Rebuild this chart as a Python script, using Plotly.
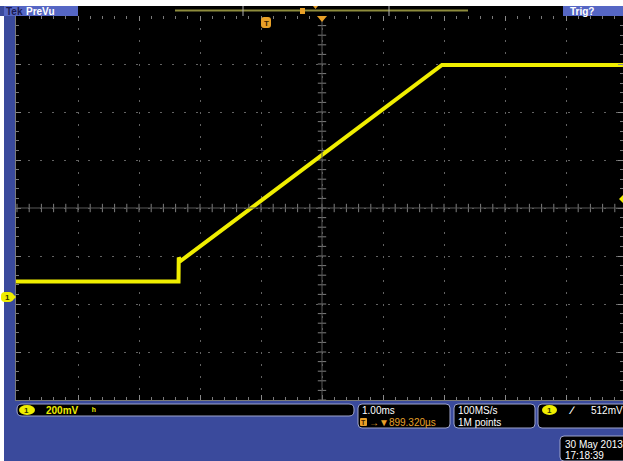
import plotly.graph_objects as go

time_ms = [-4.12, -1.453, -1.449, -1.42, 2.866, 5.84]      # time relative to trigger, ms
volts = [0.0646, 0.0646, 0.165, 0.150, 0.9667, 0.9667]       # channel 1, V

volts_per_div = 0.200
ms_per_div = 1.00
center_time = 0.89932          # horizontal position readout (ms)
center_volts = 0.37083         # graticule centre in volts (ground marker offset)
trigger_level = 0.512

ch_label = "200mV"
tb_label = "1.00ms"
pos_label = "\u2192\u25bc899.320\u00b5s"
rate_label = "100MS/s"
points_label = "1M points"
trig_label = "512mV"
date_label = "30 May 2013"
time_label = "17:18:39"

W, H = 623, 461
def X(px): return px / W
def Y(py): return 1 - py / H

BLUE = "#3a4a9c"
LBLUE = "#5566c4"
YEL = "#f0ee00"
ORG = "#e8a028"
GRID = "#626262"
BORDER = "#9ea4cc"
FONT = "Liberation Sans"

fig = go.Figure()

# graticule centre ticks
cx_ticks = [center_time + i * 0.2 * ms_per_div for i in range(-26, 26)]
cy_ticks = [center_volts + i * 0.2 * volts_per_div for i in range(-20, 21)]
fig.add_trace(go.Scatter(x=cx_ticks, y=[center_volts] * len(cx_ticks), mode="markers",
                         marker=dict(symbol="line-ns", size=6, line=dict(color="#7e7e7e", width=1)),
                         hoverinfo="skip"))
fig.add_trace(go.Scatter(x=[center_time] * len(cy_ticks), y=cy_ticks, mode="markers",
                         marker=dict(symbol="line-ew", size=6, line=dict(color="#7e7e7e", width=1)),
                         hoverinfo="skip"))

# waveform
fig.add_trace(go.Scatter(x=time_ms, y=volts, mode="lines",
                         line=dict(color=YEL, width=4), hoverinfo="skip"))

x0 = center_time - (322 - 16) / 61 * ms_per_div
x1 = center_time + (623 - 322) / 61 * ms_per_div
y1 = center_volts + (208 - 16) / 48 * volts_per_div
y0 = center_volts - (400 - 208) / 48 * volts_per_div

axis_common = dict(showticklabels=False, ticks="inside", ticklen=5, tickcolor="#8a8a8a",
                   showline=True, linecolor="#7a7a7a", linewidth=1, mirror="ticks",
                   showgrid=True, gridcolor=GRID, gridwidth=1, griddash="2px,10px",
                   zeroline=False, fixedrange=True)
fig.update_xaxes(range=[x0, x1], domain=[X(16), 1], tick0=center_time, dtick=ms_per_div,
                 minor=dict(tick0=center_time, dtick=0.2 * ms_per_div, ticks="inside",
                            ticklen=3, tickcolor="#7a7a7a", showgrid=False),
                 **axis_common)
fig.update_yaxes(range=[y0, y1], domain=[Y(400), Y(16)], tick0=center_volts, dtick=volts_per_div,
                 minor=dict(tick0=center_volts, dtick=0.2 * volts_per_div, ticks="inside",
                            ticklen=3, tickcolor="#7a7a7a", showgrid=False),
                 **axis_common)

shapes = []
def rect(xa, ya, xb, yb, fill, line=None, lw=0):
    shapes.append(dict(type="rect", xref="paper", yref="paper", x0=X(xa), x1=X(xb),
                       y0=Y(yb), y1=Y(ya), fillcolor=fill,
                       line=dict(color=line or fill, width=lw)))
def rrect(xa, ya, xb, yb, fill, line, r=4, lw=1):
    p = (f"M {X(xa + r)},{Y(ya)} L {X(xb - r)},{Y(ya)} Q {X(xb)},{Y(ya)} {X(xb)},{Y(ya + r)} "
         f"L {X(xb)},{Y(yb - r)} Q {X(xb)},{Y(yb)} {X(xb - r)},{Y(yb)} "
         f"L {X(xa + r)},{Y(yb)} Q {X(xa)},{Y(yb)} {X(xa)},{Y(yb - r)} "
         f"L {X(xa)},{Y(ya + r)} Q {X(xa)},{Y(ya)} {X(xa + r)},{Y(ya)} Z")
    shapes.append(dict(type="path", xref="paper", yref="paper", path=p, fillcolor=fill,
                       line=dict(color=line, width=lw)))
def seg(xa, ya, xb, yb, color, w=1):
    shapes.append(dict(type="line", xref="paper", yref="paper", x0=X(xa), y0=Y(ya),
                       x1=X(xb), y1=Y(yb), line=dict(color=color, width=w)))
def ell(xa, ya, xb, yb, fill):
    shapes.append(dict(type="circle", xref="paper", yref="paper", x0=X(xa), x1=X(xb),
                       y0=Y(yb), y1=Y(ya), fillcolor=fill, line=dict(color=fill, width=0)))
def tri(pts, fill):
    p = "M " + " L ".join(f"{X(a)},{Y(b)}" for a, b in pts) + " Z"
    shapes.append(dict(type="path", xref="paper", yref="paper", path=p, fillcolor=fill,
                       line=dict(color=fill, width=0)))

# white borders
rect(0, 0, 623, 6, "white")
rect(0, 16, 4, 461, "white")
# header
rect(4, 6, 78, 16, LBLUE)
rect(78, 6, 563, 16, "black")
rect(563, 6, 623, 16, LBLUE)
seg(175, 10.5, 468, 10.5, "#8e8c3c", 2)
seg(243, 6, 243, 16, "#b0b0b0", 1)
seg(389, 6, 389, 16, "#b0b0b0", 1)
rect(300, 8, 305, 14, ORG)
tri([(313, 6), (318, 6), (315.5, 9)], ORG)
# centre lines
seg(322, 16, 322, 400, "#585858", 1)
seg(16, 208, 623, 208, "#585858", 1)
# trigger position markers
tri([(317, 16), (327, 16), (322, 22)], ORG)
rrect(261, 17, 271, 28, ORG, ORG, r=3, lw=0)
# channel ground marker (left)
rrect(1, 292, 13, 302, YEL, YEL, r=4, lw=0)
tri([(12, 293), (16, 297), (12, 301)], YEL)
# trigger level marker (right)
tri([(619, 199), (623, 195), (623, 203)], YEL)
# bottom readouts
rrect(17, 404, 354, 416, "black", BORDER, r=5)
ell(19, 405, 35, 415, YEL)
rrect(358, 404, 450, 428, "black", BORDER, r=4)
rrect(360, 418, 367, 426, ORG, ORG, r=1, lw=0)
rrect(454, 404, 535, 428, "black", BORDER, r=4)
rrect(538, 404, 640, 428, "black", BORDER, r=4)
ell(542, 405, 557, 415, YEL)
rrect(560, 436, 640, 461, "black", BORDER, r=4)

ann = []
def txt(px, py, s, color="white", size=10, anchor="left", bold=False):
    ann.append(dict(xref="paper", yref="paper", x=X(px), y=Y(py), text=f"<b>{s}</b>" if bold else s,
                    showarrow=False, xanchor=anchor, yanchor="middle",
                    font=dict(family=FONT, size=size, color=color)))

txt(4, 11, "Tek", color="#1a1a50", size=10, bold=True)
txt(24, 11, "PreVu", color="white", size=10, bold=True)
txt(568, 11, "Trig?", color="white", size=10, bold=True)
txt(266, 23, "T", color="#3a2000", size=8, anchor="center", bold=True)
txt(7, 297.5, "1", color="#333300", size=8, anchor="center", bold=True)
txt(27, 410.5, "1", color="#333300", size=8, anchor="center", bold=True)
txt(44, 410.5, ch_label, color=YEL, size=10, bold=True)
txt(90, 410.5, "\u02b0", color=YEL, size=10, bold=True)
txt(360, 410, tb_label, size=10)
txt(363.5, 422, "T", color="#3a2000", size=7, anchor="center", bold=True)
txt(367, 422, pos_label, color=ORG, size=10)
txt(456, 410, rate_label, size=10)
txt(456, 422, points_label, size=10)
txt(549.5, 410.5, "1", color="#333300", size=8, anchor="center", bold=True)
txt(566, 410, "\u2215", size=11, bold=True)
txt(589, 410, trig_label, size=10)
txt(563, 444, date_label, size=10)
txt(563, 455, time_label, size=10)

fig.update_layout(width=W, height=H, margin=dict(l=0, r=0, t=0, b=0),
                  paper_bgcolor=BLUE, plot_bgcolor="black", showlegend=False,
                  shapes=shapes, annotations=ann, hovermode=False)

fig.write_html("out.html")
